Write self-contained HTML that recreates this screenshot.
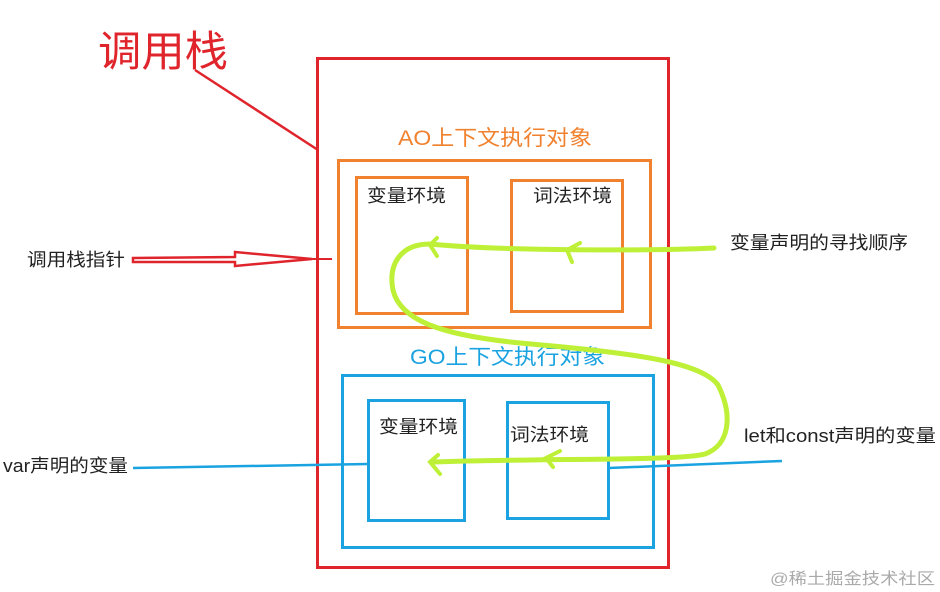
<!DOCTYPE html>
<html><head><meta charset="utf-8"><style>
html,body{margin:0;padding:0;background:#fff;}
svg{display:block;}
text{font-family:"Liberation Sans","Noto Sans CJK SC",sans-serif;}
</style></head><body>
<svg width="940" height="592" viewBox="0 0 940 592" xmlns="http://www.w3.org/2000/svg">
<rect width="940" height="592" fill="#fff"/>
<text x="98" y="66" font-size="42" fill="#e0242c" textLength="130" lengthAdjust="spacingAndGlyphs">调用栈</text>
<line x1="195" y1="70" x2="318" y2="150" stroke="#e0242c" stroke-width="2.5"/>
<rect x="317.5" y="58.5" width="351" height="509" fill="none" stroke="#e0242c" stroke-width="3"/>
<text x="398" y="145" font-size="21" fill="#f0812e" textLength="194" lengthAdjust="spacingAndGlyphs">AO上下文执行对象</text>
<rect x="338.5" y="160.5" width="312" height="167" fill="none" stroke="#f0812e" stroke-width="3"/>
<rect x="356.5" y="177.5" width="111" height="136" fill="none" stroke="#f0812e" stroke-width="3"/>
<rect x="511.5" y="180.5" width="111" height="131" fill="none" stroke="#f0812e" stroke-width="3"/>
<text x="367" y="202" font-size="18" fill="#222" textLength="79" lengthAdjust="spacingAndGlyphs">变量环境</text>
<text x="533" y="202" font-size="18" fill="#222" textLength="79" lengthAdjust="spacingAndGlyphs">词法环境</text>
<text x="410" y="364" font-size="21" fill="#1aa3e0" textLength="195" lengthAdjust="spacingAndGlyphs">GO上下文执行对象</text>
<rect x="342.5" y="375.5" width="311" height="172" fill="none" stroke="#1aa3e0" stroke-width="3"/>
<rect x="368.5" y="400.5" width="96" height="120" fill="none" stroke="#1aa3e0" stroke-width="3"/>
<rect x="507.5" y="402.5" width="101" height="116" fill="none" stroke="#1aa3e0" stroke-width="3"/>
<text x="379" y="433" font-size="18" fill="#222" textLength="79" lengthAdjust="spacingAndGlyphs">变量环境</text>
<text x="510" y="441" font-size="18" fill="#222" textLength="79" lengthAdjust="spacingAndGlyphs">词法环境</text>
<text x="27" y="266" font-size="18" fill="#222" textLength="98" lengthAdjust="spacingAndGlyphs">调用栈指针</text>
<polygon points="133,258 235,257 235,252 312,259 235,266 235,262 133,262" fill="none" stroke="#e0242c" stroke-width="2.5"/>
<line x1="312" y1="259" x2="332" y2="259" stroke="#e0242c" stroke-width="2"/>
<text x="730" y="249" font-size="18" fill="#222" textLength="178" lengthAdjust="spacingAndGlyphs">变量声明的寻找顺序</text>
<text x="744" y="442" font-size="18" fill="#222" textLength="192" lengthAdjust="spacingAndGlyphs">let和const声明的变量</text>
<text x="3" y="472" font-size="18" fill="#222" textLength="125" lengthAdjust="spacingAndGlyphs">var声明的变量</text>
<line x1="133" y1="468" x2="368" y2="464" stroke="#1aa3e0" stroke-width="2.5"/>
<line x1="609" y1="468" x2="782" y2="461" stroke="#1aa3e0" stroke-width="2.5"/>
<path d="M714,248 C650,251 500,251 430,244 C400,244 388,265 393,290 C400,320 440,335 520,343 C620,352 700,360 718,385 C733,415 730,445 705,454 C680,461 550,458 434,462" fill="none" stroke="#bdf037" stroke-width="5" stroke-linecap="round"/>
<path d="M437,238 L430,245 L437,256 M580,243 L567,250 L572,262 M438,455 L430,462 L440,474 M560,451 L546,458 L553,467" fill="none" stroke="#bdf037" stroke-width="4" stroke-linecap="round"/>
<text x="770" y="584" font-size="16" fill="#aaa" textLength="165" lengthAdjust="spacingAndGlyphs">@稀土掘金技术社区</text>
</svg>
</body></html>
